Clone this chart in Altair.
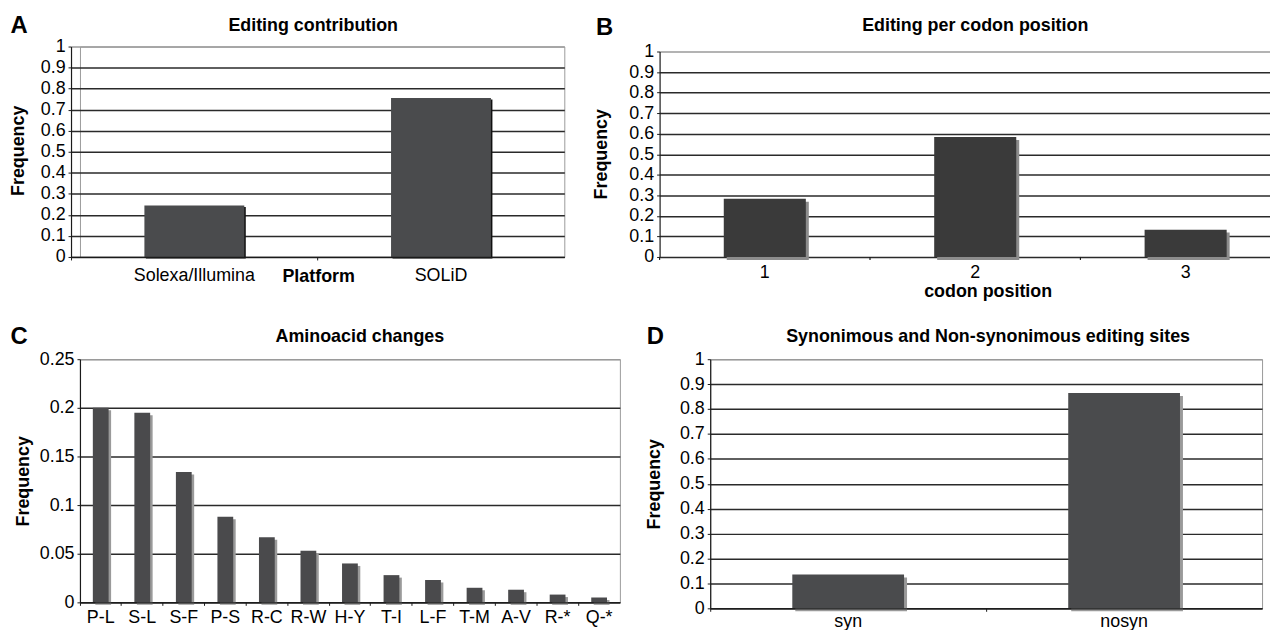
import altair as alt
import pandas as pd

FONT = "Liberation Sans"

# ---- data ----
platforms = ["Solexa/Illumina", "SOLiD"]
platform_freq = [0.245, 0.755]

codon_positions = ["1", "2", "3"]
codon_freq = [0.283, 0.584, 0.133]

aa_changes = ["P-L", "S-L", "S-F", "P-S", "R-C", "R-W", "H-Y", "T-I", "L-F", "T-M", "A-V", "R-*", "Q-*"]
aa_freq = [0.200, 0.195, 0.134, 0.088, 0.067, 0.053, 0.040, 0.028, 0.023, 0.015, 0.013, 0.008, 0.005]

syn_classes = ["syn", "nosyn"]
syn_freq = [0.136, 0.864]

ticks_unit = [0, 0.1, 0.2, 0.3, 0.4, 0.5, 0.6, 0.7, 0.8, 0.9, 1]
ticks_aa = [0, 0.05, 0.1, 0.15, 0.2, 0.25]


def text_layer(txt, x, y, size, align="center", angle=0, baseline="middle"):
    kw = dict(align=align, baseline=baseline, font=FONT, fontSize=size,
              fontWeight="bold", color="black")
    if angle:
        kw["angle"] = angle
    return alt.Chart(pd.DataFrame({"t": [txt]})).mark_text(**kw).encode(
        text="t:N", x=alt.value(x), y=alt.value(y))


def panel(cats, vals, ymax, yticks, w, h, bar_color, shadow_color, band_frac,
          letter, letter_xy, title, title_xy, freq_xy, label_off,
          xtitle=None, xtitle_xy=None, shadow_off=3, y_top=0, x_scale=None,
          view_stroke="#9a9a9a", y_offset=0, manual_x=False):
    df = pd.DataFrame({"cat": cats, "val": vals})
    xscale = alt.Scale(**dict(dict(paddingInner=0, paddingOuter=0), **(x_scale or {})))
    if manual_x:
        xaxis = None
    else:
        xaxis_kw = dict(
            labelAngle=0, bandPosition=0, tickSize=3, ticks=True, grid=False,
            domainColor="#1a1a1a", tickColor="#1a1a1a", domainWidth=1.2,
            labelFont=FONT, labelFontSize=18, labelColor="black",
            labelBaseline="alphabetic", labelPadding=label_off - 3, zindex=1,
        )
        if xtitle:
            xaxis_kw.update(title=xtitle, titleFont=FONT, titleFontSize=18,
                            titleFontWeight="bold", titleColor="black",
                            titleX=xtitle_xy[0], titleY=xtitle_xy[1],
                            titleAlign="center", titleBaseline="alphabetic")
        else:
            xaxis_kw.update(title=None)
        xaxis = alt.Axis(**xaxis_kw)
    x = alt.X("cat:N", sort=cats, scale=xscale, axis=xaxis)
    yaxis_kw = dict(
        values=yticks, format="~g", grid=True,
        gridColor={"condition": {"test": f"datum.value === {ymax}", "value": "#9a9a9a"},
                   "value": "#2a2a2a"},
        gridWidth=1.5, tickSize=3, tickColor="#1a1a1a",
        domainColor="#1a1a1a", domainWidth=1.2, labelPadding=3,
        labelFont=FONT, labelFontSize=18, labelColor="black",
        title=None)
    if y_offset:
        yaxis_kw["offset"] = y_offset
    y = alt.Y("val:Q", scale=alt.Scale(domain=[0, ymax], nice=False, range=[h, y_top]),
              axis=alt.Axis(**yaxis_kw))
    base = alt.Chart(df).encode(x=x, y=y)
    shadow = base.mark_bar(color=shadow_color, width=alt.RelativeBandSize(band_frac),
                           xOffset=shadow_off, yOffset=shadow_off)
    bars = base.mark_bar(color=bar_color, width=alt.RelativeBandSize(band_frac))
    layers = [shadow, bars]
    if manual_x:
        # category labels and the ticks between categories, placed by the band scale
        labels = alt.Chart(df).mark_text(
            font=FONT, fontSize=18, color="black", baseline="alphabetic", align="center"
        ).encode(x=x, text="cat:N", y=alt.value(h + label_off))
        ticks = alt.Chart(df).mark_rule(color="#1a1a1a", strokeWidth=1.2).encode(
            x=alt.X("cat:N", sort=cats, scale=xscale, axis=None, bandPosition=0),
            y=alt.value(h), y2=alt.value(h + 3))
        layers += [ticks, labels]
        if xtitle:
            layers.append(text_layer(xtitle, xtitle_xy[0], h + xtitle_xy[1], 18,
                                     baseline="alphabetic"))
    layers.append(text_layer(letter, letter_xy[0], letter_xy[1], 24, align="left"))
    layers.append(text_layer(title, title_xy[0], title_xy[1], 18))
    layers.append(text_layer("Frequency", freq_xy[0], freq_xy[1], 18, angle=270))
    return alt.layer(*layers).properties(
        width=w, height=h, view=alt.ViewBackground(stroke=view_stroke))


# panel A's view starts at the same x as panel C's; its axis sits 9px further left
pA = panel(platforms, platform_freq, 1, ticks_unit, 488, 212, "#4a4b4d", "#111111", 0.405,
           "A", (-70, -20.5), "Editing contribution", (235, -21), (-61, 105), 24,
           xtitle="Platform", xtitle_xy=(240, 24.5), shadow_off=1.5,
           x_scale={"range": [-9, 488]}, y_offset=9)
# panel B: 212px bands, the third one running past the visible right edge
pB = panel(codon_positions, codon_freq, 1, ticks_unit, 614, 212, "#3a3a3a", "#8c8c8c", 0.39,
           "B", (-64, -19), "Editing per codon position", (318, -21), (-58, 108.5), 21,
           xtitle="codon position", xtitle_xy=(331, 40), y_top=5,
           x_scale={"range": [0, 636]}, view_stroke="transparent", manual_x=True)
pC = panel(aa_changes, aa_freq, 0.25, ticks_aa, 544, 245, "#4a4a4c", "#9a9a9a", 0.38,
           "C", (-70, -22), "Aminoacid changes", (282, -22), (-56, 123), 20.5,
           shadow_off=2.5)
pD = panel(syn_classes, syn_freq, 1, ticks_unit, 556, 251, "#4a4b4d", "#9a9a9a", 0.405,
           "D", (-64, -22), "Synonimous and Non-synonimous editing sites", (280, -22), (-56, 126), 18)

row1 = alt.hconcat(pA, pB, spacing=18)
row2 = alt.hconcat(pC, pD, spacing=24)
chart = alt.vconcat(row1, row2, spacing=23).properties(
    padding={"left": 1.5, "top": 3.5, "right": 0, "bottom": -4}
)

chart.save("out.html", embed_options={"renderer": "svg", "actions": False})
